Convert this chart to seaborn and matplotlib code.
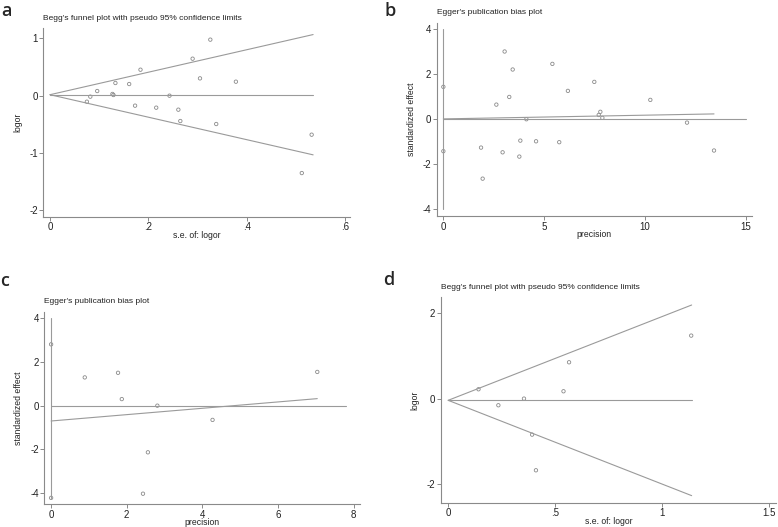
import matplotlib
matplotlib.use("Agg")
import matplotlib.pyplot as plt
import seaborn as sns
import pandas as pd

# ---- data ----
# panel a: Begg's funnel plot
a_se = [0.075, 0.082, 0.096, 0.127, 0.129, 0.133, 0.161, 0.184, 0.173, 0.216, 0.243,
        0.261, 0.265, 0.290, 0.305, 0.326, 0.338, 0.378, 0.512, 0.532]
a_logor = [-0.105, -0.017, 0.081, 0.030, 0.012, 0.221, 0.203, 0.453, -0.174, -0.209, 0.0,
           -0.244, -0.442, 0.645, 0.302, 0.977, -0.494, 0.244, -1.349, -0.680]
a_pooled = 0.017
a_se_max = 0.535

# panel b: Egger's publication bias plot
b_prec = [0.0, 0.0, 1.87, 1.95, 2.63, 2.94, 3.04, 3.27, 3.44, 3.77, 3.82, 4.12, 4.60,
          5.41, 5.75, 6.18, 7.49, 7.71, 7.79, 7.89, 10.27, 12.09, 13.43]
b_std = [1.44, -1.42, -1.26, -2.64, 0.65, -1.47, 3.01, 0.99, 2.21, -1.66, -0.95, 0.0, -0.98,
         2.46, -1.02, 1.26, 1.66, 0.19, 0.33, 0.06, 0.86, -0.15, -1.39]
b_intercept, b_slope = 0.015, 0.0165
b_ci = (-4.0, 4.0)
b_xmax = 15

# panel c: Egger's publication bias plot
c_prec = [0.0, 0.0, 0.89, 1.77, 1.87, 2.43, 2.56, 2.81, 4.27, 7.04]
c_std = [2.80, -4.21, 1.29, 1.50, 0.30, -4.02, -2.13, 0.0, -0.65, 1.54]
c_intercept, c_slope = -0.70, 0.145
c_ci = (-4.21, 4.0)
c_xmax = 7.8

# panel d: Begg's funnel plot
d_se = [0.142, 0.235, 0.355, 0.393, 0.411, 0.540, 0.566, 1.138]
d_logor = [0.219, -0.156, 0.0, -0.844, -1.68, 0.172, 0.852, 1.477]
d_pooled = -0.04
d_se_max = 1.14

# ---- style ----
sns.set_style("white")
plt.rcParams["font.family"] = ["Liberation Sans", "DejaVu Sans"]
plt.rcParams["axes.unicode_minus"] = False
GREY = "#8a8a8a"
LINE = "#9a9a9a"
TXT = "#222222"

W, H = 778, 527
fig = plt.figure(figsize=(W / 100, H / 100), dpi=100)


def make_ax(left, top, right, bottom):
    ax = fig.add_axes([left / W, 1 - bottom / H, (right - left) / W, (bottom - top) / H])
    sns.despine(ax=ax)
    for s in ("left", "bottom"):
        ax.spines[s].set_color(GREY)
        ax.spines[s].set_linewidth(0.8)
    ax.tick_params(axis="both", direction="out", length=3, width=0.7, color=GREY,
                   labelsize=7, labelcolor=TXT, pad=1, left=True, bottom=True)
    return ax


def points(ax, x, y):
    df = pd.DataFrame({"x": x, "y": y})
    sns.scatterplot(data=df, x="x", y="y", ax=ax, marker="o", s=6,
                    facecolor="none", edgecolor=GREY, linewidth=0.6, legend=False)


def funnel(ax, pooled, se_max):
    ax.plot([0, se_max], [pooled, pooled], color=LINE, lw=0.8)
    ax.plot([0, se_max], [pooled, pooled + 1.96 * se_max], color=LINE, lw=0.8)
    ax.plot([0, se_max], [pooled, pooled - 1.96 * se_max], color=LINE, lw=0.8)


def egger(ax, intercept, slope, prec, ci, xmax):
    ax.plot([0, xmax], [0, 0], color=LINE, lw=0.8)
    ax.plot([0, 0], list(ci), color=LINE, lw=0.8)
    pm = max(prec)
    ax.plot([0, pm], [intercept, intercept + slope * pm], color=LINE, lw=0.8)


def labels(ax, title, xl, yl):
    ax.set_title(title, loc="left", fontsize=6, color=TXT, pad=6)
    ax.set_xlabel(xl, fontsize=6.2, color=TXT, labelpad=-1)
    ax.set_ylabel(yl, fontsize=6.2, color=TXT, labelpad=5)


# panel a
ax = make_ax(43.3, 28, 350, 216.7)
funnel(ax, a_pooled, a_se_max)
points(ax, a_se, a_logor)
ax.set_xlim(-0.0136, 0.61)
ax.set_ylim(-2.11, 1.18)
ax.set_xticks([0, 0.2, 0.4, 0.6], ["0", ".2", ".4", ".6"])
ax.set_yticks([-2, -1, 0, 1])
labels(ax, "Begg's funnel plot with pseudo 95% confidence limits", "s.e. of: logor", "logor")

# panel b
ax = make_ax(436.7, 22.7, 751.7, 216)
egger(ax, b_intercept, b_slope, b_prec, b_ci, b_xmax)
points(ax, b_prec, b_std)
ax.set_xlim(-0.33, 15.3)
ax.set_ylim(-4.30, 4.29)
ax.set_xticks([0, 5, 10, 15])
ax.set_yticks([-4, -2, 0, 2, 4])
labels(ax, "Egger's publication bias plot", "precision", "standardized effect")

# panel c
ax = make_ax(44.3, 311.7, 360, 504)
egger(ax, c_intercept, c_slope, c_prec, c_ci, c_xmax)
points(ax, c_prec, c_std)
ax.set_xlim(-0.18, 8.17)
ax.set_ylim(-4.49, 4.29)
ax.set_xticks([0, 2, 4, 6, 8])
ax.set_yticks([-4, -2, 0, 2, 4])
labels(ax, "Egger's publication bias plot", "precision", "standardized effect")

# panel d
ax = make_ax(440.7, 297.3, 776, 502.7)
funnel(ax, d_pooled, d_se_max)
points(ax, d_se, d_logor)
ax.set_xlim(-0.035, 1.535)
ax.set_ylim(-2.44, 2.375)
ax.set_xticks([0, 0.5, 1, 1.5], ["0", ".5", "1", "1.5"])
ax.set_yticks([-2, 0, 2])
labels(ax, "Begg's funnel plot with pseudo 95% confidence limits", "s.e. of: logor", "logor")

# panel letters
for lx, ly, letter in [(1, 2, "a"), (384, 2, "b"), (0, 272, "c"), (383, 271, "d")]:
    fig.text(lx / W, 1 - ly / H, letter, fontsize=13, fontweight="semibold",
             family=["Open Sans", "DejaVu Sans"], va="top", ha="left")

fig.savefig("out.png", dpi=100)
